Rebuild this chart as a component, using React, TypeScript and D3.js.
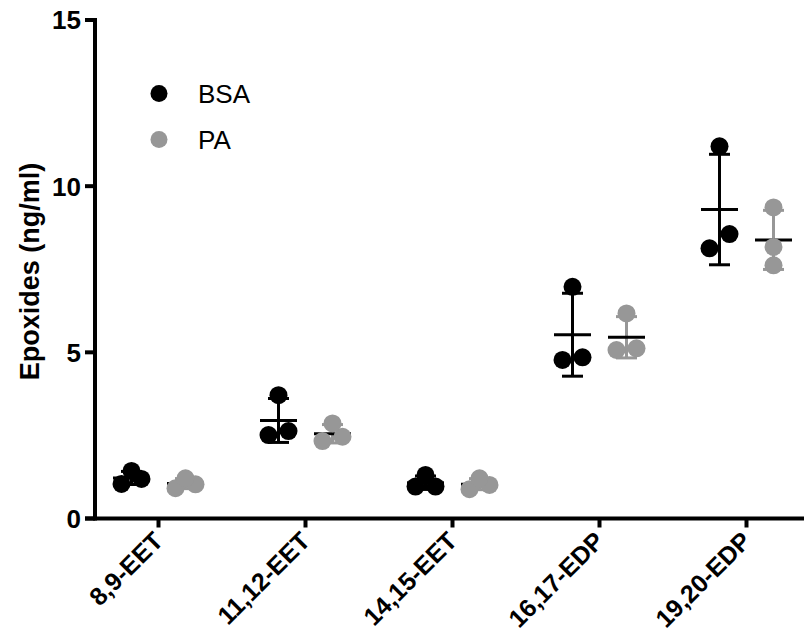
import React from "react";
import * as d3 from "d3";

const categories = ["8,9-EET", "11,12-EET", "14,15-EET", "16,17-EDP", "19,20-EDP"];
const bsaValues = [
  [1.04, 1.19, 1.43],
  [2.51, 2.63, 3.71],
  [0.96, 0.96, 1.31],
  [4.77, 4.85, 6.97],
  [8.13, 8.56, 11.2],
];
const paValues = [
  [0.91, 1.03, 1.21],
  [2.33, 2.46, 2.86],
  [0.88, 1.01, 1.21],
  [5.07, 5.12, 6.17],
  [7.62, 8.17, 9.36],
];
const yTicks = [0, 5, 10, 15];
const seriesNames = ["BSA", "PA"];

const W = 804;
const H = 634;
const FONT = "'Liberation Sans', Arial, Helvetica, sans-serif";
const colors = ["#000000", "#979797"];

export default function App() {
  const y = d3.scaleLinear().domain([0, 15]).range([518.5, 20]);
  const x = d3.scalePoint<string>().domain(categories).range([158.5, 746.5]);
  const series = d3.scalePoint<string>().domain(seriesNames).range([-27, 27]);
  const r = 9;
  const axisX = 95;

  const layout = (vals: number[]) => {
    const sorted = [...vals].sort((a, b) => a - b);
    const out: { v: number; dx: number }[] = [];
    let i = 0;
    while (i < sorted.length) {
      if (i + 1 < sorted.length && Math.abs(y(sorted[i]) - y(sorted[i + 1])) < 16) {
        out.push({ v: sorted[i], dx: -10 });
        out.push({ v: sorted[i + 1], dx: 10 });
        i += 2;
      } else {
        out.push({ v: sorted[i], dx: 0 });
        i += 1;
      }
    }
    return out;
  };

  const allSeries = [bsaValues, paValues];

  return (
    <svg
      width={W}
      height={H}
      style={{ position: "fixed", left: 0, top: 0, background: "#fff" }}
      fontFamily={FONT}
    >
      <rect x={0} y={0} width={W} height={H} fill="#fff" />
      {/* error bars and means */}
      {allSeries.map((data, si) =>
        data.map((vals, ci) => {
          const cx = (x(categories[ci]) as number) + (series(seriesNames[si]) as number);
          const m = d3.mean(vals) as number;
          const sd = d3.deviation(vals) as number;
          return (
            <g key={`eb-${si}-${ci}`}>
              <line x1={cx} x2={cx} y1={y(m + sd)} y2={y(m - sd)} stroke={colors[si]} strokeWidth={3} />
              <line x1={cx - 10.5} x2={cx + 10.5} y1={y(m + sd)} y2={y(m + sd)} stroke={colors[si]} strokeWidth={3} />
              <line x1={cx - 10.5} x2={cx + 10.5} y1={y(m - sd)} y2={y(m - sd)} stroke={colors[si]} strokeWidth={3} />
              <line x1={cx - 18.5} x2={cx + 18.5} y1={y(m)} y2={y(m)} stroke="#000" strokeWidth={3} />
            </g>
          );
        })
      )}
      {/* points */}
      {allSeries.map((data, si) =>
        data.map((vals, ci) => {
          const cx = (x(categories[ci]) as number) + (series(seriesNames[si]) as number);
          return layout(vals).map((p, pi) => (
            <circle key={`pt-${si}-${ci}-${pi}`} cx={cx + p.dx} cy={y(p.v)} r={r} fill={colors[si]} />
          ));
        })
      )}
      {/* y axis */}
      <line x1={axisX} x2={axisX} y1={y(15) - 2} y2={y(0) + 2} stroke="#000" strokeWidth={4} />
      {yTicks.map((t) => (
        <g key={`yt-${t}`}>
          <line x1={axisX - 10} x2={axisX} y1={y(t)} y2={y(t)} stroke="#000" strokeWidth={4} />
          <text
            x={axisX - 14}
            y={y(t)}
            dy="0.36em"
            textAnchor="end"
            fontSize={26}
            fontWeight="bold"
            fill="#000"
          >
            {t}
          </text>
        </g>
      ))}
      <text
        transform={`translate(39, 271.5) rotate(-90)`}
        textAnchor="middle"
        fontSize={27}
        fontWeight="bold"
        fill="#000"
      >
        Epoxides (ng/ml)
      </text>
      {/* x axis */}
      <line x1={axisX - 10} x2={W} y1={y(0)} y2={y(0)} stroke="#000" strokeWidth={4} />
      {categories.map((c) => (
        <g key={`xt-${c}`}>
          <line x1={x(c)} x2={x(c)} y1={y(0)} y2={y(0) + 9} stroke="#000" strokeWidth={4} />
          <text
            transform={`translate(${(x(c) as number) + 6}, ${y(0) + 24}) rotate(-45)`}
            textAnchor="end"
            fontSize={25}
            fontWeight="bold"
            fill="#000"
          >
            {c}
          </text>
        </g>
      ))}
      {/* legend */}
      {seriesNames.map((s, i) => (
        <g key={`lg-${s}`} transform={`translate(159, ${93.5 + i * 46})`}>
          <circle cx={0} cy={0} r={8.5} fill={colors[i]} />
          <text x={39} y={0} dy="0.36em" fontSize={26} fill="#000">
            {s}
          </text>
        </g>
      ))}
    </svg>
  );
}
